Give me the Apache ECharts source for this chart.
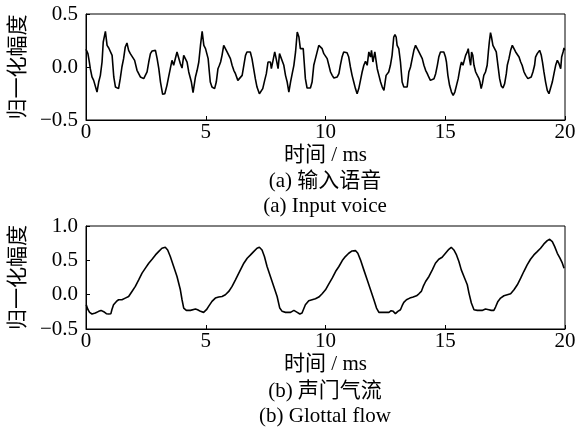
<!DOCTYPE html>
<html>
<head>
<meta charset="utf-8">
<script src="https://cdn.jsdelivr.net/npm/echarts@6/dist/echarts.min.js"></script>
<style>html,body{margin:0;padding:0;background:#fff;}#c{width:587px;height:432px;}</style>
</head>
<body>
<div id="c"></div>
<script>
// ---- Data: (a) input voice ----
var timeA = [0,0.08,0.14,0.18,0.25,0.32,0.39,0.46,0.53,0.60,0.67,0.72,0.81,0.88,0.95,1.02,1.09,1.16,1.23,1.36,1.43,1.50,1.57,1.64,1.71,1.78,1.85,1.92,2.03,2.13,2.27,2.41,2.48,2.55,2.62,2.69,2.76,2.90,2.97,3.04,3.11,3.20,3.29,3.38,3.45,3.52,3.59,3.66,3.73,3.80,3.87,3.94,4.01,4.08,4.15,4.22,4.29,4.40,4.47,4.57,4.64,4.71,4.78,4.85,4.92,4.99,
5.05,5.10,5.15,5.19,5.26,5.37,5.44,5.51,5.57,5.62,5.68,5.75,5.82,5.89,5.96,6.03,6.10,6.17,6.24,6.34,6.42,6.52,6.59,6.66,6.72,6.79,6.86,6.93,7.00,7.07,7.14,7.24,7.32,7.38,7.46,7.53,7.60,7.70,7.74,7.81,7.88,7.94,8.02,8.08,8.16,8.26,8.33,8.40,8.47,8.54,8.61,8.68,8.75,8.82,8.89,8.95,9.02,9.07,9.11,9.16,9.23,9.37,9.44,9.51,9.58,9.65,9.72,9.79,9.86,9.93,10.00,
10.07,10.14,10.21,10.28,10.35,10.42,10.49,10.56,10.62,10.69,10.76,10.83,10.90,10.97,11.04,11.11,11.18,11.25,11.32,11.39,11.46,11.53,11.60,11.67,11.74,11.81,11.88,11.92,11.98,12.06,12.12,12.16,12.23,12.30,12.37,12.44,12.48,12.53,12.58,12.64,12.71,12.78,12.85,12.90,12.95,12.99,13.06,13.13,13.20,13.27,13.41,13.48,13.55,13.62,13.69,13.76,13.83,13.90,13.97,14.04,14.11,14.18,14.25,14.31,14.38,14.46,14.53,14.60,14.67,14.73,14.80,14.87,14.94,15.01,
15.05,15.11,15.18,15.26,15.33,15.40,15.47,15.54,15.60,15.64,15.68,15.74,15.79,15.85,15.92,15.96,16.01,16.06,16.10,16.15,16.20,16.27,16.34,16.41,16.45,16.50,16.55,16.61,16.68,16.75,16.80,16.84,16.89,16.93,16.99,17.06,17.13,17.20,17.27,17.34,17.41,17.48,17.55,17.59,17.66,17.73,17.80,17.87,17.94,18.01,18.08,18.15,18.21,18.29,18.36,18.45,18.52,18.59,18.66,18.73,18.77,18.84,18.94,19.01,19.06,19.12,19.19,19.26,19.33,19.40,19.47,19.54,19.61,19.68,19.75,19.82,19.86,19.92,19.96,19.98];
var voiceA = [0.167,0.126,0.047,-0.016,-0.094,-0.126,-0.142,-0.236,-0.142,-0.079,0.047,0.236,0.336,0.204,0.179,0.189,0.11,-0.094,-0.189,-0.204,-0.11,0,0.079,0.189,0.226,0.157,0.126,0.11,0.063,-0.031,-0.094,-0.11,-0.10,-0.047,0.047,0.126,0.151,0.157,0.079,-0.016,-0.142,-0.258,-0.252,-0.173,-0.094,-0.016,0.063,0.016,0,0.142,0.142,0.031,-0.01,0.11,0.116,0.047,-0.047,-0.142,-0.242,-0.094,-0.031,0.047,0.204,0.336,0.204,0.173,
0.157,0.079,-0.047,-0.142,-0.189,-0.204,-0.142,-0.016,0.016,0.047,0.11,0.204,0.173,0.142,0.126,0.079,0.016,-0.031,-0.063,-0.126,-0.126,-0.079,0.016,0.11,0.142,0.157,0.142,0.079,-0.016,-0.11,-0.189,-0.252,-0.252,-0.204,-0.126,-0.063,0.047,0.047,-0.016,0.063,0.142,0.079,-0.016,0.126,0.11,0.016,-0.079,-0.142,-0.236,-0.142,-0.063,0.016,0.142,0.33,0.283,0.173,0.157,0.173,0.047,-0.11,-0.198,-0.198,-0.142,0.016,0.079,0.079,0.204,0.22,0.173,0.126,0.11,
0.079,0.016,-0.047,-0.079,-0.104,-0.11,-0.094,-0.063,0.016,0.094,0.142,0.148,0.135,0.094,0,-0.079,-0.142,-0.204,-0.252,-0.204,-0.126,-0.047,0.016,0.053,0.016,0.142,0.094,0.157,0.047,0.142,0.047,-0.016,-0.079,-0.142,-0.189,-0.22,-0.22,-0.079,-0.063,-0.047,0.016,0.11,0.283,0.305,0.283,0.204,0.173,0.047,-0.142,-0.189,-0.189,-0.047,0,0.079,0.157,0.204,0.173,0.142,0.126,0.079,0.016,-0.031,-0.063,-0.094,-0.126,-0.126,-0.11,-0.063,0.016,0.094,0.142,0.157,0.142,0.094,
0.047,-0.079,-0.173,-0.236,-0.267,-0.236,-0.173,-0.11,-0.031,0.016,0.047,0.016,0.016,0.11,0.142,0.173,0.079,0.016,0.142,0.11,0.016,-0.047,-0.079,-0.11,-0.142,-0.204,-0.157,-0.079,-0.047,0.016,0.142,0.236,0.324,0.283,0.204,0.173,0.142,0.016,-0.11,-0.179,-0.198,-0.157,-0.063,0.016,0.079,0.157,0.204,0.189,0.142,0.126,0.094,0.047,0.016,-0.047,-0.079,-0.11,-0.126,-0.094,-0.047,0.016,0.094,0.126,0.157,0.11,0.047,-0.047,-0.142,-0.22,-0.252,-0.236,-0.142,-0.063,0.016,0.063,0.031,-0.016,0.094,0.142,0.18,0.157];

// ---- Data: (b) glottal flow ----
var timeB = [0.01,0.07,0.15,0.25,0.39,0.53,0.63,0.74,0.85,0.95,1.04,1.08,1.15,1.27,1.36,1.50,1.64,1.78,1.92,2.06,2.20,2.34,2.48,2.62,2.76,2.90,3.03,3.17,3.31,3.41,3.52,3.66,3.80,3.94,4.01,4.08,4.19,4.36,4.57,4.66,4.78,4.91,5.03,5.12,5.26,5.40,5.54,5.68,5.82,5.96,6.10,6.24,6.38,
6.59,6.73,6.87,7.00,7.14,7.24,7.35,7.45,7.56,7.70,7.84,7.98,8.09,8.19,8.33,8.54,8.68,8.82,8.93,9.02,9.16,9.30,9.44,9.58,9.72,9.86,10.00,10.14,10.28,10.42,10.56,10.70,10.83,10.97,11.11,11.25,11.35,11.46,11.60,11.74,11.88,12.02,12.13,12.23,12.44,12.65,12.74,12.83,12.92,13.02,
13.13,13.20,13.27,13.38,13.52,13.66,13.80,13.90,14.00,14.08,14.18,14.32,14.46,14.59,14.73,14.87,15.01,15.15,15.25,15.36,15.47,15.57,15.67,15.81,15.92,15.99,16.09,16.20,16.34,16.54,16.68,16.82,16.92,17.03,17.10,17.20,17.31,17.45,17.59,17.73,17.87,18.01,18.15,18.28,18.42,18.56,18.70,18.84,18.98,19.12,19.26,19.36,19.47,19.57,19.68,19.79,19.89,19.96];
var flowB = [-0.147,-0.209,-0.258,-0.282,-0.268,-0.243,-0.229,-0.248,-0.277,-0.282,-0.277,-0.219,-0.147,-0.098,-0.074,-0.074,-0.05,-0.026,0.047,0.120,0.216,0.313,0.386,0.458,0.516,0.579,0.627,0.676,0.690,0.651,0.555,0.410,0.265,0.071,-0.074,-0.195,-0.229,-0.229,-0.209,-0.219,-0.243,-0.258,-0.219,-0.171,-0.098,-0.05,-0.035,-0.026,-0.001,0.047,0.120,0.216,0.313,
0.458,0.531,0.579,0.627,0.676,0.690,0.651,0.555,0.410,0.265,0.120,-0.026,-0.195,-0.243,-0.258,-0.258,-0.229,-0.258,-0.282,-0.268,-0.147,-0.089,-0.074,-0.06,-0.035,0.013,0.071,0.158,0.240,0.337,0.410,0.497,0.555,0.603,0.637,0.642,0.603,0.507,0.361,0.216,0.071,-0.074,-0.195,-0.258,-0.258,-0.258,-0.234,-0.243,-0.277,-0.243,
-0.219,-0.161,-0.113,-0.074,-0.05,-0.035,-0.016,0.013,0.047,0.120,0.192,0.265,0.361,0.458,0.516,0.545,0.603,0.661,0.690,0.651,0.579,0.482,0.361,0.240,0.144,0.023,-0.122,-0.219,-0.229,-0.229,-0.209,-0.219,-0.229,-0.229,-0.180,-0.098,-0.05,-0.016,-0.001,0.013,0.071,0.144,0.240,0.337,0.434,0.516,0.579,0.627,0.676,0.739,0.787,0.806,0.773,0.700,0.603,0.531,0.458,0.386];

// ---- Axes / text ----
var xTicks = {min: 0, max: 20, interval: 5};
var yTicksA = {min: -0.5, max: 0.5, interval: 0.5};
var yTicksB = {min: -0.5, max: 1.0, interval: 0.5};
var yName = '归一化幅度';
var xName = '时间 / ms';
var captionsA = ['(a) 输入语音', '(a) Input voice'];
var captionsB = ['(b) 声门气流', '(b) Glottal flow'];

function pairs(t, v) { return t.map(function (x, i) { return [x, v[i]]; }); }

var FONT = "'Liberation Serif','Times New Roman','Noto Sans CJK SC',serif";
var FS = 21;
function fmt(v) { return v < 0 ? '\u2212' + Math.abs(v).toFixed(1) : v.toFixed(1); }

function xAxisCfg(gi) {
  return {
    gridIndex: gi, type: 'value', min: xTicks.min, max: xTicks.max, interval: xTicks.interval,
    name: xName, nameLocation: 'middle', nameGap: 25,
    nameTextStyle: {fontFamily: FONT, fontSize: FS, color: '#000'},
    axisLine: {show: true, onZero: false, lineStyle: {color: '#000', width: 1}},
    axisTick: {show: true, inside: true, length: 4, lineStyle: {color: '#000'}},
    axisLabel: {fontFamily: FONT, fontSize: FS, color: '#000', margin: 2},
    splitLine: {show: false}
  };
}
function yAxisCfg(gi, t) {
  return {
    gridIndex: gi, type: 'value', min: t.min, max: t.max, interval: t.interval,
    name: yName, nameLocation: 'middle', nameGap: 55, nameRotate: 90,
    nameTextStyle: {fontFamily: FONT, fontSize: FS, color: '#000'},
    axisLine: {show: true, onZero: false, lineStyle: {color: '#000', width: 1}},
    axisTick: {show: true, inside: true, length: 4, lineStyle: {color: '#000'}},
    axisLabel: {fontFamily: FONT, fontSize: FS, color: '#000', margin: 8, formatter: fmt},
    splitLine: {show: false}
  };
}
function cap(text, y) {
  return {type: 'text', x: 325, y: y, style: {text: text, fontFamily: FONT, fontSize: FS, fill: '#000', align: 'center', verticalAlign: 'middle'}};
}

var chart = echarts.init(document.getElementById('c'), null, {renderer: 'canvas'});
chart.setOption({
  animation: false,
  backgroundColor: '#fff',
  grid: [
    {left: 86, top: 14, width: 479, height: 106, show: true, borderColor: '#000', borderWidth: 1, backgroundColor: 'transparent'},
    {left: 86, top: 226, width: 479, height: 103, show: true, borderColor: '#000', borderWidth: 1, backgroundColor: 'transparent'}
  ],
  xAxis: [xAxisCfg(0), xAxisCfg(1)],
  yAxis: [yAxisCfg(0, yTicksA), yAxisCfg(1, yTicksB)],
  series: [
    {type: 'line', xAxisIndex: 0, yAxisIndex: 0, data: pairs(timeA, voiceA), showSymbol: false, lineStyle: {color: '#000', width: 1.6}},
    {type: 'line', xAxisIndex: 1, yAxisIndex: 1, data: pairs(timeB, flowB), showSymbol: false, lineStyle: {color: '#000', width: 1.6}}
  ],
  graphic: [cap(captionsA[0], 181), cap(captionsA[1], 206), cap(captionsB[0], 391), cap(captionsB[1], 416)]
});
</script>
</body>
</html>
